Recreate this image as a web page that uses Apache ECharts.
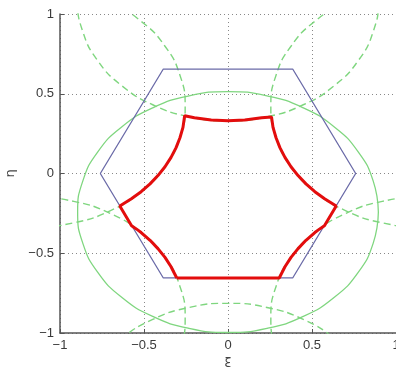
<!DOCTYPE html>
<html><head><meta charset="utf-8">
<script src="https://cdn.jsdelivr.net/npm/echarts@6/dist/echarts.min.js"></script>
<style>html,body{margin:0;padding:0;background:#fff}#c{width:396px;height:367px}</style>
</head><body><div id="c"></div>
<script>
const tickValues = [-1, -0.5, 0, 0.5, 1];
const tickLabels = ['\u22121', '\u22120.5', '0', '0.5', '1'];

const hexagon = [[-0.76,0],[-0.385,0.655],[0.385,0.655],[0.76,0],[0.385,-0.655],[-0.385,-0.655],[-0.76,0]];

const solidEllipse = [[0.895,-0.242],[0.864,-0.046],[0.775,0.136],[0.633,0.292],[0.448,0.412],[0.232,0.487],[0,0.513],
  [-0.232,0.487],[-0.448,0.412],[-0.633,0.292],[-0.775,0.136],[-0.864,-0.046],[-0.895,-0.242],[-0.864,-0.438],
  [-0.775,-0.620],[-0.633,-0.776],[-0.448,-0.896],[-0.232,-0.971],[0,-0.997],[0.232,-0.971],[0.448,-0.896],
  [0.633,-0.776],[0.775,-0.620],[0.864,-0.438],[0.895,-0.242]];

const dashedTop = [[-0.864,1.281],[-0.895,1.085],[-0.864,0.889],[-0.775,0.707],[-0.633,0.551],[-0.448,0.431],
  [-0.232,0.356],[0,0.330],[0.232,0.356],[0.448,0.431],[0.633,0.551],[0.775,0.707],[0.864,0.889],[0.895,1.085],[0.864,1.281]];

const dashedUpperLeft = [[-1.382,1.149],[-1.15,1.175],[-0.918,1.149],[-0.702,1.074],[-0.517,0.954],[-0.375,0.798],
  [-0.286,0.616],[-0.255,0.420],[-0.286,0.224],[-0.375,0.042],[-0.517,-0.114],[-0.702,-0.234],[-0.918,-0.309],
  [-1.15,-0.335],[-1.382,-0.309]];

const dashedUpperRight = [[1.382,1.149],[1.15,1.175],[0.918,1.149],[0.702,1.074],[0.517,0.954],[0.375,0.798],
  [0.286,0.616],[0.255,0.420],[0.286,0.224],[0.375,0.042],[0.517,-0.114],[0.702,-0.234],[0.918,-0.309],
  [1.15,-0.335],[1.382,-0.309]];

const dashedLowerLeft = [[-1.382,-0.175],[-1.15,-0.149],[-0.918,-0.175],[-0.702,-0.250],[-0.517,-0.370],
  [-0.375,-0.526],[-0.286,-0.708],[-0.255,-0.904],[-0.286,-1.100],[-0.375,-1.282]];

const dashedLowerRight = [[1.382,-0.175],[1.15,-0.149],[0.918,-0.175],[0.702,-0.250],[0.517,-0.370],
  [0.375,-0.526],[0.286,-0.708],[0.255,-0.904],[0.286,-1.100],[0.375,-1.282]];

const dashedBottom = [[-0.864,-1.373],[-0.775,-1.191],[-0.633,-1.035],[-0.448,-0.915],[-0.232,-0.840],[0,-0.814],
  [0.232,-0.840],[0.448,-0.915],[0.633,-1.035],[0.775,-1.191],[0.864,-1.373]];

const redBoundary = [[-0.305,-0.655],[0.305,-0.655],
  [0.339,-0.585],[0.375,-0.526],[0.417,-0.471],[0.464,-0.419],[0.517,-0.370],[0.540,-0.352],[0.574,-0.327],
  [0.644,-0.204],[0.575,-0.158],[0.517,-0.114],[0.464,-0.065],[0.417,-0.013],[0.375,0.042],[0.339,0.101],
  [0.309,0.162],[0.286,0.224],[0.268,0.289],[0.259,0.354],[0.258,0.362],
  [0.2,0.349],[0.1,0.335],[0,0.330],[-0.1,0.335],[-0.2,0.349],[-0.258,0.362],
  [-0.259,0.354],[-0.268,0.289],[-0.286,0.224],[-0.309,0.162],[-0.339,0.101],[-0.375,0.042],[-0.417,-0.013],
  [-0.464,-0.065],[-0.517,-0.114],[-0.575,-0.158],[-0.644,-0.204],
  [-0.574,-0.327],[-0.540,-0.352],[-0.517,-0.370],[-0.464,-0.419],[-0.417,-0.471],[-0.375,-0.526],
  [-0.339,-0.585],[-0.305,-0.655]];

const GREEN = '#7fd67f', BLUE = '#6b6ba8', RED = '#e30d0d';
const fmt = v => { const i = tickValues.findIndex(t => Math.abs(t - v) < 1e-9); return i >= 0 ? tickLabels[i] : ''; };
const font = 'Liberation Sans, Arial, sans-serif';

function axis(name, extra) {
  return Object.assign({
    type: 'value', min: tickValues[0], max: tickValues[tickValues.length-1], interval: 0.5,
    name: name, nameLocation: 'middle',
    nameTextStyle: { fontFamily: 'DejaVu Sans, sans-serif', fontSize: 13, color: '#444' },
    axisLine: { show: true, onZero: false, lineStyle: { color: '#555', width: 1.5 } },
    axisTick: { show: true, inside: true, length: 4, lineStyle: { color: '#555', width: 1 } },
    axisLabel: { formatter: fmt, color: '#3a3a3a', fontSize: 13, fontFamily: font, margin: 6 },
    splitLine: { show: true, lineStyle: { type: [1, 3], color: '#888', width: 1 } }
  }, extra);
}

function lineSeries(data, color, width, dashed, smooth, z) {
  return { type: 'line', data: data, showSymbol: false, symbol: 'none', smooth: smooth, clip: true,
    lineStyle: { color: color, width: width, type: dashed ? [7, 4] : 'solid' }, z: z, silent: true, animation: false };
}

const chart = echarts.init(document.getElementById('c'), null, { renderer: 'canvas' });
chart.setOption({
  animation: false,
  backgroundColor: '#fff',
  grid: { left: 60, right: 0, top: 14, bottom: 34, containLabel: false, outerBoundsMode: 'none' },
  xAxis: axis('\u03be', { nameGap: 24 }),
  yAxis: axis('\u03b7', { nameGap: 35, nameRotate: 90 }),
  series: [
    lineSeries(solidEllipse, GREEN, 1.3, false, true, 2),
    lineSeries(dashedTop, GREEN, 1.4, true, true, 2),
    lineSeries(dashedUpperLeft, GREEN, 1.4, true, true, 2),
    lineSeries(dashedUpperRight, GREEN, 1.4, true, true, 2),
    lineSeries(dashedLowerLeft, GREEN, 1.4, true, true, 2),
    lineSeries(dashedLowerRight, GREEN, 1.4, true, true, 2),
    lineSeries(dashedBottom, GREEN, 1.4, true, true, 2),
    lineSeries(hexagon, BLUE, 1.3, false, false, 3),
    lineSeries(redBoundary, RED, 3, false, false, 4)
  ]
});
</script></body></html>
